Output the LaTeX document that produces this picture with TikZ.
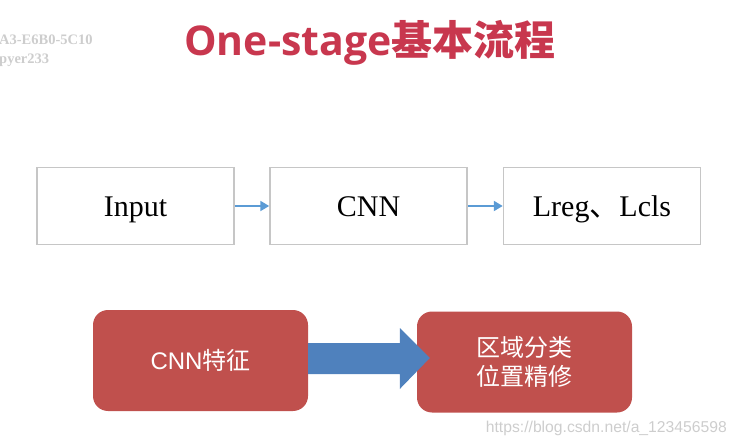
\documentclass[tikz,border=0pt]{standalone}
\usepackage{fontspec}
\setmainfont{Liberation Serif}
\newfontfamily\cjk{Noto Sans CJK SC}
\newfontfamily\latsans{Liberation Sans}
\newfontfamily\titlelat{Open Sans}
\usetikzlibrary{arrows.meta}
\usetikzlibrary{calc}

\definecolor{titlered}{HTML}{C8374E}
\definecolor{boxred}{HTML}{C0504D}
\definecolor{fatblue}{HTML}{4F81BD}
\definecolor{linkblue}{HTML}{5B9BD5}
\definecolor{framegray}{HTML}{C6C6C6}
\definecolor{markgray}{HTML}{CDCDCD}

\tikzset{
	stagebox/.style={draw=framegray, line width=1.5pt, fill=white, minimum width=197pt, minimum height=77pt, inner sep=0pt, text height=22pt, text depth=0pt, font=\fontsize{30}{36}\selectfont},
	redbox/.style={fill=boxred, rounded corners=15pt, minimum width=215pt, minimum height=101pt, text=white, align=center, font=\fontsize{24}{29}\selectfont\cjk},
	link/.style={draw=linkblue, line width=2pt, -{Triangle[length=9pt,width=10pt]}},
	fatarrow/.style={fill=fatblue},
	watermark/.style={text=markgray, inner sep=0pt},
}

\begin{document}
\begin{tikzpicture}[x=1pt, y=-1pt]
	\useasboundingbox (0,0) rectangle (736,446);

	%watermarks
	\node[watermark, anchor=base west, font=\fontsize{14.5}{14.5}\selectfont\bfseries] (markA) at (-1,45) {A3-E6B0-5C10};
	\node[watermark, anchor=base west, font=\fontsize{14.5}{14.5}\selectfont\bfseries] (markB) at (-1,64) {pyer233};
	\node[watermark, anchor=east, font=\fontsize{15.7}{15.7}\selectfont\latsans] (url) at (727,428) {https://blog.csdn.net/a\_123456598};

	%title
	\node[anchor=base, text=titlered, inner sep=0pt, font=\fontsize{41}{41}\selectfont\bfseries] (title) at (370,56) {{\titlelat One-stage}{\cjk 基本流程}};

	%pipeline
	\node[stagebox] (input) at (135.5,206) {Input};
	\node[stagebox] (cnn) at (368.5,206) {CNN};
	\node[stagebox] (loss) at (602,206) {Lreg{\cjk 、}Lcls};
	\draw[link] (input) -- (cnn);
	\draw[link] (cnn) -- (loss);

	%one-stage boxes
	\node[redbox] (feat) at (200.5,360.5) {{\latsans CNN}特征};
	\node[redbox] (refine) at (524.5,362) {区域分类\\位置精修};
	\fill[fatarrow] ($(feat.east)+(0,-17.5)$) -- ($(refine.west)+(-17,-19)$) -- ($(refine.west)+(-17,-34)$)
		-- ($(refine.west)+(13,-4)$) -- ($(refine.west)+(-17,27)$) -- ($(refine.west)+(-17,12)$)
		-- ($(feat.east)+(0,13.5)$) -- cycle;

\end{tikzpicture}
\end{document}
